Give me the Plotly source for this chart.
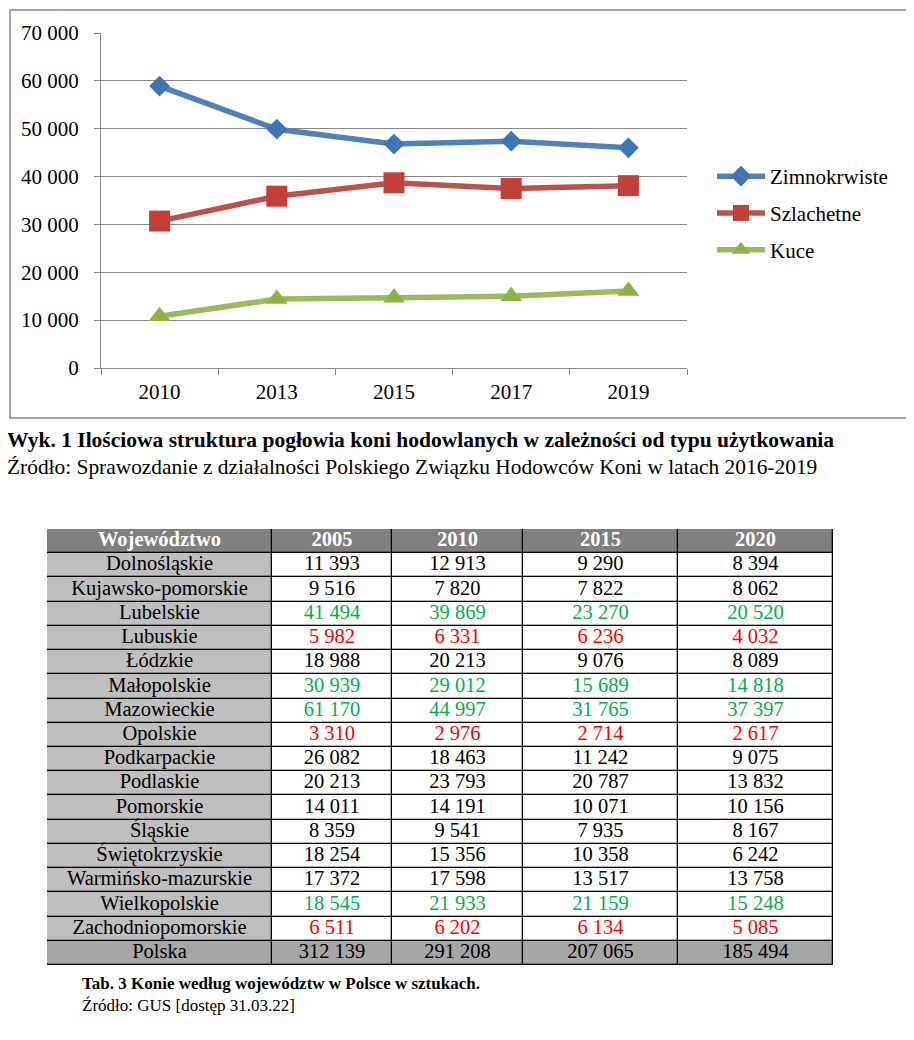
import plotly.graph_objects as go

# ---------------- data ----------------
years = ["2010", "2013", "2015", "2017", "2019"]
zimnokrwiste = [58900, 49900, 46800, 47400, 46000]
szlachetne = [30700, 35900, 38700, 37500, 38100]
kuce = [10800, 14400, 14700, 15000, 16100]
series_names = ["Zimnokrwiste", "Szlachetne", "Kuce"]

table_header = ["Województwo", "2005", "2010", "2015", "2020"]
voivodeships = ["Dolnośląskie", "Kujawsko-pomorskie", "Lubelskie", "Lubuskie", "Łódzkie",
                "Małopolskie", "Mazowieckie", "Opolskie", "Podkarpackie", "Podlaskie",
                "Pomorskie", "Śląskie", "Świętokrzyskie", "Warmińsko-mazurskie",
                "Wielkopolskie", "Zachodniopomorskie"]
v2005 = [11393, 9516, 41494, 5982, 18988, 30939, 61170, 3310, 26082, 20213, 14011, 8359, 18254, 17372, 18545, 6511]
v2010 = [12913, 7820, 39869, 6331, 20213, 29012, 44997, 2976, 18463, 23793, 14191, 9541, 15356, 17598, 21933, 6202]
v2015 = [9290, 7822, 23270, 6236, 9076, 15689, 31765, 2714, 11242, 20787, 10071, 7935, 10358, 13517, 21159, 6134]
v2020 = [8394, 8062, 20520, 4032, 8089, 14818, 37397, 2617, 9075, 13832, 10156, 8167, 6242, 13758, 15248, 5085]
total_label = "Polska"
totals = [312139, 291208, 207065, 185494]
green_rows = ["Lubelskie", "Małopolskie", "Mazowieckie", "Wielkopolskie"]
red_rows = ["Lubuskie", "Opolskie", "Zachodniopomorskie"]

chart_caption = "Wyk. 1 Ilościowa struktura pogłowia koni hodowlanych w zależności od typu użytkowania"
chart_source = "Źródło: Sprawozdanie z działalności Polskiego Związku Hodowców Koni w latach 2016-2019"
table_caption = "Tab. 3 Konie według województw w Polsce w sztukach."
table_source = "Źródło: GUS [dostęp 31.03.22]"

# ---------------- layout helpers ----------------
W, H = 900, 1024
OFF = 8


def px(x):
    return (x - OFF) / W


def py(y):
    return 1 - (y - OFF) / H


SERIF = "Liberation Serif"
GRAY = "#878787"

fig = go.Figure()

# ---------------- line chart ----------------
styles = [
    ("#4F81BD", "#3F74B8", "diamond", 16),
    ("#C0504D", "#C43E3A", "square", 21),
    ("#9BBB59", "#8DB443", "triangle-up", 19),
]
for name, vals, (lc, mc, sym, ms) in zip(series_names, [zimnokrwiste, szlachetne, kuce], styles):
    fig.add_trace(go.Scatter(
        x=years, y=vals, name=name, mode="lines+markers",
        line=dict(color=lc, width=5.5),
        marker=dict(color=mc, symbol=sym, size=ms, line=dict(width=0)),
        legendgroup=name, xaxis="x", yaxis="y", cliponaxis=False,
    ))

# ---------------- table ----------------
col_edges = [0, 225, 345, 476, 631, 786]
col_centers = [(a + b) / 2 for a, b in zip(col_edges[:-1], col_edges[1:])]
n_rows = len(voivodeships) + 2

# background style codes: 0 white, 1 first column, 2 total row, 3 header
z = []
for r in range(n_rows):
    if r == 0:
        z.append([3] * 5)
    elif r == n_rows - 1:
        z.append([2] * 5)
    else:
        z.append([1, 0, 0, 0, 0])

fig.add_trace(go.Heatmap(
    x=col_edges, y=list(range(n_rows)), z=z, zmin=0, zmax=3,
    colorscale=[[0, "#FFFFFF"], [1 / 3, "#BFBFBF"], [2 / 3, "#A6A6A6"], [1, "#7F7F7F"]],
    showscale=False, xgap=1.3, ygap=1.3, hoverinfo="skip",
    xaxis="x2", yaxis="y2",
))

# header text
fig.add_trace(go.Scatter(
    x=col_centers, y=[0] * 5, mode="text",
    text=["<b>%s</b>" % h for h in table_header],
    textfont=dict(family=SERIF, size=20.5, color="white"),
    hoverinfo="skip", showlegend=False, xaxis="x2", yaxis="y2", cliponaxis=False,
))


def fmt(v):
    return f"{v:,}".replace(",", " ")


tx, ty, tt, tc = [], [], [], []
columns = [v2005, v2010, v2015, v2020]
for i, name in enumerate(voivodeships):
    r = i + 1
    color = "#00B050" if name in green_rows else ("#FF0000" if name in red_rows else "black")
    tx.append(col_centers[0]); ty.append(r); tt.append(name); tc.append("black")
    for c, col in enumerate(columns):
        tx.append(col_centers[c + 1]); ty.append(r); tt.append(fmt(col[i])); tc.append(color)
r = n_rows - 1
tx.append(col_centers[0]); ty.append(r); tt.append(total_label); tc.append("black")
for c, v in enumerate(totals):
    tx.append(col_centers[c + 1]); ty.append(r); tt.append(fmt(v)); tc.append("black")

fig.add_trace(go.Scatter(
    x=tx, y=ty, mode="text", text=tt,
    textfont=dict(family=SERIF, size=20.5, color=tc),
    hoverinfo="skip", showlegend=False, xaxis="x2", yaxis="y2", cliponaxis=False,
))

# ---------------- layout ----------------
fig.update_layout(
    width=W, height=H,
    margin=dict(l=0, r=0, t=0, b=0, pad=0, autoexpand=False),
    paper_bgcolor="white", plot_bgcolor="white",
    separators=", ",
    font=dict(family=SERIF, color="black"),
    xaxis=dict(
        domain=[px(101), px(687)], type="category", range=[-0.5, 4.5],
        showline=True, linecolor=GRAY, linewidth=1.3,
        ticks="outside", tickson="boundaries", ticklen=6, tickcolor=GRAY, tickwidth=1.3,
        showgrid=False, zeroline=False, automargin=False,
        tickfont=dict(family=SERIF, size=21, color="black"),
        ticklabelstandoff=5, anchor="y",
    ),
    yaxis=dict(
        domain=[py(368), py(33)], range=[0, 70000], dtick=10000, tickformat=",",
        showline=True, linecolor=GRAY, linewidth=1.3,
        ticks="outside", ticklen=6, tickcolor=GRAY, tickwidth=1.3,
        showgrid=True, gridcolor=GRAY, gridwidth=1.3, zeroline=False, automargin=False,
        tickfont=dict(family=SERIF, size=21, color="black"),
        ticklabelstandoff=11, anchor="x",
    ),
    xaxis2=dict(domain=[px(47), px(833)], range=[col_edges[0], col_edges[-1]],
                visible=False, anchor="y2", fixedrange=True, automargin=False),
    yaxis2=dict(domain=[py(965), py(529)], range=[n_rows - 0.5, -0.5],
                visible=False, anchor="x2", fixedrange=True, automargin=False),
    legend=dict(
        x=px(712), y=py(156), xanchor="left", yanchor="top",
        font=dict(family=SERIF, size=21, color="black"),
        bgcolor="rgba(0,0,0,0)", itemwidth=48,
        traceorder="grouped", tracegroupgap=6.5,
    ),
    showlegend=True,
)

# chart border
fig.add_shape(type="rect", xref="paper", yref="paper",
              x0=px(10), x1=px(907.5), y0=py(418), y1=py(10),
              line=dict(color=GRAY, width=1.5), fillcolor="rgba(0,0,0,0)", layer="below")
# table grid background (shows through heatmap gaps as black lines)
fig.add_shape(type="rect", xref="x2", yref="y2",
              x0=col_edges[0], x1=col_edges[-1], y0=-0.5, y1=n_rows - 0.5,
              line=dict(color="black", width=1.3), fillcolor="black", layer="below")

# captions
fig.add_annotation(xref="paper", yref="paper", x=px(5), y=py(440), xanchor="left", yanchor="middle",
                   text="<b>%s</b>" % chart_caption, showarrow=False,
                   font=dict(family=SERIF, size=21.5, color="black"))
fig.add_annotation(xref="paper", yref="paper", x=px(5), y=py(467), xanchor="left", yanchor="middle",
                   text=chart_source, showarrow=False,
                   font=dict(family=SERIF, size=21.4, color="black"))
fig.add_annotation(xref="paper", yref="paper", x=px(80), y=py(983), xanchor="left", yanchor="middle",
                   text="<b>%s</b>" % table_caption, showarrow=False,
                   font=dict(family=SERIF, size=17, color="black"))
fig.add_annotation(xref="paper", yref="paper", x=px(80), y=py(1005), xanchor="left", yanchor="middle",
                   text=table_source, showarrow=False,
                   font=dict(family=SERIF, size=17, color="black"))

fig.write_html("out.html")
